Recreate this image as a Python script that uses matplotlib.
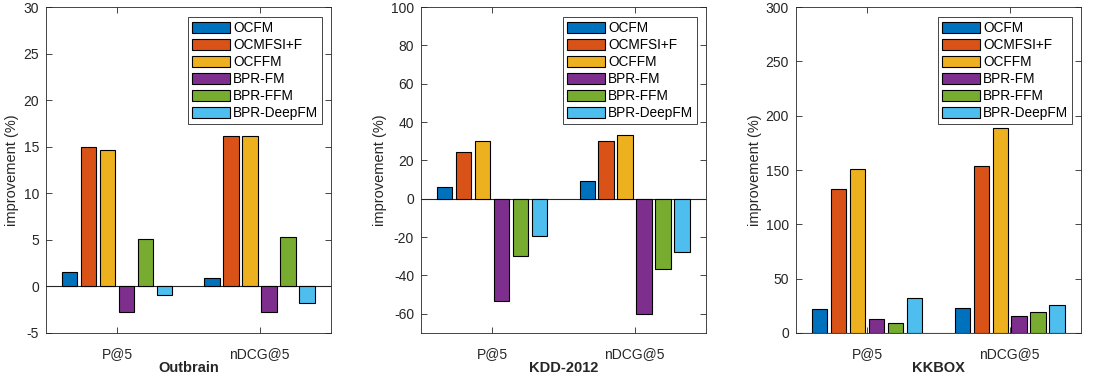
import numpy as np
import matplotlib
matplotlib.use('Agg')
import matplotlib.pyplot as plt

plt.rcParams['font.family'] = ['Liberation Sans', 'DejaVu Sans']
plt.rcParams['axes.unicode_minus'] = False

methods = ['OCFM', 'OCMFSI+F', 'OCFFM', 'BPR-FM', 'BPR-FFM', 'BPR-DeepFM']
metrics = ['P@5', 'nDCG@5']
colors = ['#0072BD', '#D95319', '#EDB120', '#7E2F8E', '#77AC30', '#4DBEEE']

# improvement (%) per method, [P@5, nDCG@5]
outbrain = [[1.5, 0.9], [15.0, 16.1], [14.7, 16.1], [-2.75, -2.75], [5.1, 5.3], [-0.9, -1.8]]
kdd2012 = [[5.9, 9.2], [24.4, 30.3], [30.3, 33.3], [-53.2, -60.0], [-29.8, -36.4], [-19.4, -27.6]]
kkbox = [[22.3, 23.3], [132.2, 154.0], [151.2, 188.6], [12.9, 15.6], [9.5, 19.0], [32.1, 25.7]]

datasets = ['Outbrain', 'KDD-2012', 'KKBOX']
all_data = [outbrain, kdd2012, kkbox]
ylims = [(-5, 30), (-70, 100), (0, 300)]
yticks = [np.arange(-5, 31, 5), np.arange(-60, 101, 20), np.arange(0, 301, 50)]

fig = plt.figure(figsize=(10.95, 3.79), dpi=100)
lefts = [0.042, 0.3845, 0.727]
frame_col = '#262626'

for k in range(3):
    ax = fig.add_axes([lefts[k], 0.1214, 0.260, 0.860])
    data = np.array(all_data[k])
    n = len(methods)
    step = 0.8 / n
    x = np.arange(1, len(metrics) + 1)
    for i in range(n):
        off = (i - (n - 1) / 2) * step
        ax.bar(x + off, data[i], width=step * 0.8, color=colors[i],
               edgecolor='black', linewidth=0.8, label=methods[i], zorder=2)
    ax.axhline(0, color=frame_col, linewidth=0.8, zorder=1)
    ax.set_xlim(0.5, 2.5)
    ax.set_ylim(*ylims[k])
    ax.set_yticks(yticks[k])
    ax.set_xticks(x)
    ax.set_xticklabels(metrics)
    ax.tick_params(direction='in', top=True, right=True, length=4,
                   labelsize=10, colors=frame_col, labelcolor=frame_col, width=0.6)
    ax.tick_params(axis='x', pad=10)
    ax.tick_params(axis='y', pad=5)
    for s in ax.spines.values():
        s.set_color(frame_col)
        s.set_linewidth(0.6)
    ax.set_xlabel(datasets[k], fontsize=10.5, fontweight='bold', color=frame_col, labelpad=0)
    ax.set_ylabel('improvement (%)', fontsize=10.5, color=frame_col, labelpad=3)
    leg = ax.legend(loc='upper right', bbox_to_anchor=(0.97, 0.97), fontsize=9.8,
                    handlelength=2.75, handleheight=0.9, labelspacing=0.22,
                    handletextpad=0.25, borderpad=0.3, borderaxespad=0.0,
                    fancybox=False, framealpha=1, edgecolor=frame_col)
    leg.get_frame().set_linewidth(0.6)

fig.savefig('out.png', dpi=100)
